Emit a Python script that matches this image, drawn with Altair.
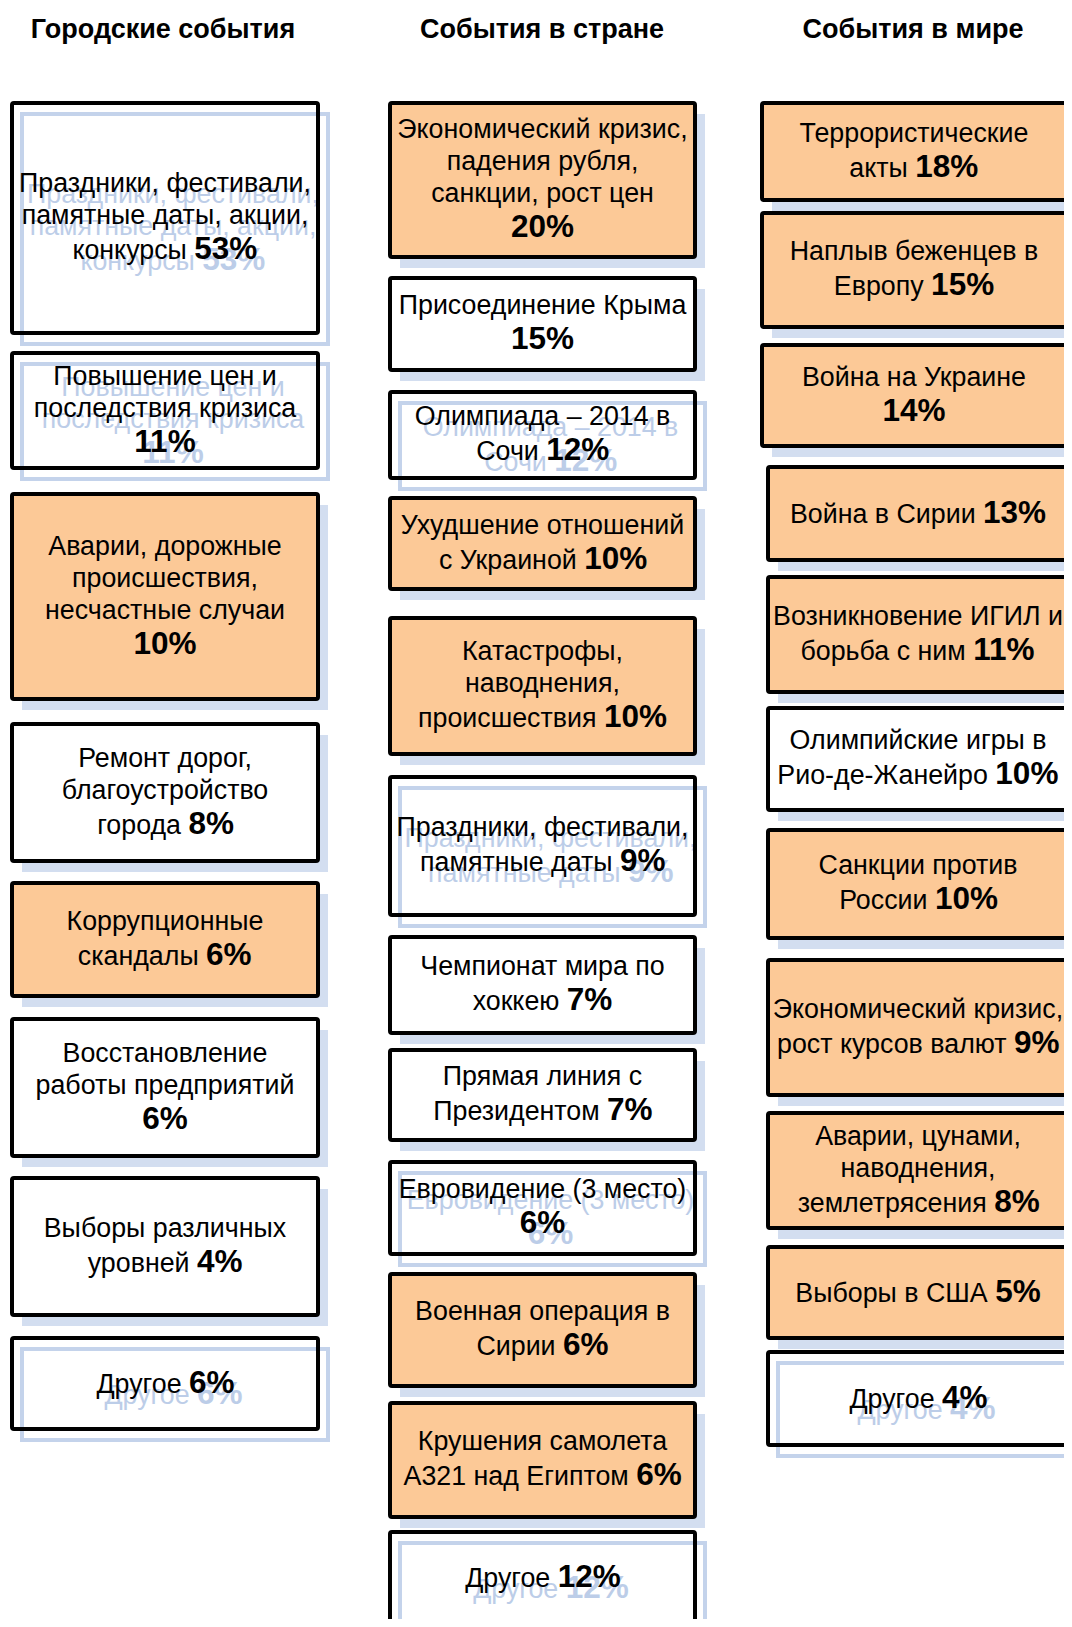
import glob
import struct
import altair as alt
import pandas as pd

# ---------------- data ----------------
column_titles = ["Городские события", "События в стране", "События в мире"]

city_labels = [
    "Праздники, фестивали,\nпамятные даты, акции,\nконкурсы",
    "Повышение цен и\nпоследствия кризиса",
    "Аварии, дорожные\nпроисшествия,\nнесчастные случаи",
    "Ремонт дорог,\nблагоустройство\nгорода",
    "Коррупционные\nскандалы",
    "Восстановление\nработы предприятий",
    "Выборы различных\nуровней",
    "Другое",
]
city_pct = [53, 11, 10, 8, 6, 6, 4, 6]
city_style = ["ghost", "ghost", "orange", "white", "orange", "white", "white", "ghost"]
city_pct_newline = [False, True, True, False, False, True, False, False]

country_labels = [
    "Экономический кризис,\nпадения рубля,\nсанкции, рост цен",
    "Присоединение Крыма",
    "Олимпиада – 2014 в\nСочи",
    "Ухудшение отношений\nс Украиной",
    "Катастрофы,\nнаводнения,\nпроисшествия",
    "Праздники, фестивали,\nпамятные даты",
    "Чемпионат мира по\nхоккею",
    "Прямая линия с\nПрезидентом",
    "Евровидение (3 место)",
    "Военная операция в\nСирии",
    "Крушения самолета\nА321 над Египтом",
    "Другое",
]
country_pct = [20, 15, 12, 10, 10, 9, 7, 7, 6, 6, 6, 12]
country_style = ["orange", "white", "ghost", "orange", "orange", "ghost",
                 "white", "white", "ghost", "orange", "orange", "ghost"]
country_pct_newline = [True, True, False, False, False, False,
                       False, False, True, False, False, False]

world_labels = [
    "Террористические\nакты",
    "Наплыв беженцев в\nЕвропу",
    "Война на Украине",
    "Война в Сирии",
    "Возникновение ИГИЛ и\nборьба с ним",
    "Олимпийские игры в\nРио-де-Жанейро",
    "Санкции против\nРоссии",
    "Экономический кризис,\nрост курсов валют",
    "Аварии, цунами,\nнаводнения,\nземлетрясения",
    "Выборы в США",
    "Другое",
]
world_pct = [18, 15, 14, 13, 11, 10, 10, 9, 8, 5, 4]
world_style = ["orange", "orange", "orange", "orange", "orange", "white",
               "orange", "orange", "orange", "orange", "ghost"]
world_pct_newline = [False, False, True, False, False, False,
                     False, False, False, False, False]

# ---------------- layout (pixels of the picture) ----------------
city_left = [12] * 8
city_right = [318] * 8
city_top = [103, 353, 494, 724, 883, 1019, 1178, 1338]
city_bottom = [333, 468, 699, 861, 996, 1156, 1315, 1429]

country_left = [390] * 12
country_right = [695] * 12
country_top = [103, 278, 392, 498, 618, 777, 937, 1050, 1162, 1274, 1403, 1532]
country_bottom = [257, 370, 478, 589, 754, 915, 1033, 1140, 1254, 1386, 1517, 1623]

world_left = [762, 762, 762] + [768] * 8
world_right = [1066, 1066, 1066] + [1068] * 8
world_top = [103, 213, 345, 467, 577, 708, 830, 960, 1113, 1247, 1352]
world_bottom = [200, 327, 446, 560, 692, 810, 938, 1095, 1228, 1338, 1445]

title_x = [163, 542, 913]
title_y = 38

FONT = "Liberation Sans"
REG = 26.8
BOLD = 31.5
TITLE = 27
LH_REG = 32
LH_BOLD = 36
ORANGE = "#FCC997"
SHADOW_FILL = "#d3def0"
SHADOW_LINE = "#c4d3eb"
GHOST_TEXT = "#bccde8"
SH_DX, SH_DY = 10, 11
GH_DX, GH_DY = 8, 11


# ---------------- text measuring from the installed TTF ----------------
def load_measure(pattern):
    files = glob.glob(pattern, recursive=True)
    if not files:
        return None
    try:
        with open(files[0], "rb") as f:
            data = f.read()
        num = struct.unpack(">H", data[4:6])[0]
        tables = {}
        for i in range(num):
            tag, cs, off, ln = struct.unpack(">4sIII", data[12 + 16 * i:28 + 16 * i])
            tables[tag.decode("latin1")] = off
        head = tables["head"]
        upem = struct.unpack(">H", data[head + 18:head + 20])[0]
        hhea = tables["hhea"]
        nhm = struct.unpack(">H", data[hhea + 34:hhea + 36])[0]
        hmtx = tables["hmtx"]
        adv = [struct.unpack(">H", data[hmtx + 4 * i:hmtx + 4 * i + 2])[0] for i in range(nhm)]
        cmap = tables["cmap"]
        n = struct.unpack(">H", data[cmap + 2:cmap + 4])[0]
        sub = None
        for i in range(n):
            pid, eid, off = struct.unpack(">HHI", data[cmap + 4 + 8 * i:cmap + 12 + 8 * i])
            fmt = struct.unpack(">H", data[cmap + off:cmap + off + 2])[0]
            if pid == 3 and eid == 1 and fmt == 4:
                sub = cmap + off
        segx2 = struct.unpack(">H", data[sub + 6:sub + 8])[0]
        seg = segx2 // 2
        ends = struct.unpack(">%dH" % seg, data[sub + 14:sub + 14 + segx2])
        starts = struct.unpack(">%dH" % seg, data[sub + 16 + segx2:sub + 16 + 2 * segx2])
        deltas = struct.unpack(">%dh" % seg, data[sub + 16 + 2 * segx2:sub + 16 + 3 * segx2])
        rpos = sub + 16 + 3 * segx2
        roffs = struct.unpack(">%dH" % seg, data[rpos:rpos + segx2])

        def gid(c):
            for i in range(seg):
                if ends[i] >= c:
                    if starts[i] > c:
                        return 0
                    if roffs[i] == 0:
                        return (c + deltas[i]) & 0xFFFF
                    addr = rpos + 2 * i + roffs[i] + 2 * (c - starts[i])
                    g = struct.unpack(">H", data[addr:addr + 2])[0]
                    return (g + deltas[i]) & 0xFFFF if g else 0
            return 0

        def measure(s, size):
            tot = 0
            for ch in s:
                g = gid(ord(ch))
                tot += adv[min(g, nhm - 1)]
            return tot * size / upem
        return measure
    except Exception:
        return None


def approx(bold):
    def measure(s, size):
        tot = 0.0
        for ch in s:
            if ch in " ,.":
                w = 0.278
            elif ch.isdigit():
                w = 0.556
            elif ch == "%":
                w = 0.889
            elif ch.isupper():
                w = 0.68
            else:
                w = 0.54
            tot += w * (1.06 if bold else 1.0)
        return tot * size
    return measure


m_reg = load_measure("/usr/share/fonts/**/LiberationSans-Regular.ttf") or approx(False)
m_bold = load_measure("/usr/share/fonts/**/LiberationSans-Bold.ttf") or approx(True)

# ---------------- build tables ----------------
box_rows, text_rows = [], []
columns = [
    (city_labels, city_pct, city_style, city_pct_newline, city_left, city_right, city_top, city_bottom),
    (country_labels, country_pct, country_style, country_pct_newline, country_left, country_right, country_top, country_bottom),
    (world_labels, world_pct, world_style, world_pct_newline, world_left, world_right, world_top, world_bottom),
]
for labels, pcts, styles, newl, L, R, T, B in columns:
    for lab, p, st, nl, x1, x2, y1, y2 in zip(labels, pcts, styles, newl, L, R, T, B):
        fill = {"orange": ORANGE, "white": "white", "ghost": "transparent"}[st]
        box_rows.append(dict(x1=x1, x2=x2, y1=y1, y2=y2, fill=fill, style=st,
                             sx1=x1 + SH_DX, sx2=x2 + SH_DX, sy1=y1 + SH_DY, sy2=y2 + SH_DY))
        parts = lab.split("\n")
        pct = f"{p}%"
        if nl:
            lines = [(t, "") for t in parts] + [("", pct)]
        else:
            lines = [(t, "") for t in parts[:-1]] + [(parts[-1], pct)]
        heights = [LH_BOLD if b else LH_REG for _, b in lines]
        cx = (x1 + x2) / 2
        top = (y1 + y2) / 2 - sum(heights) / 2
        for (reg, bold), h in zip(lines, heights):
            base = top + 0.75 * h
            top += h
            if reg and bold:
                wsep = m_reg(" ", REG)
                wr = m_reg(reg, REG)
                wb = m_bold(bold, BOLD)
                x0 = cx - (wr + wsep + wb) / 2
                split = x0 + wr + wsep
                text_rows.append(dict(x=split - wsep, y=base, text=reg, kind="reg_right", ghost=st == "ghost"))
                text_rows.append(dict(x=split, y=base, text=bold, kind="bold_left", ghost=st == "ghost"))
            elif reg:
                text_rows.append(dict(x=cx, y=base, text=reg, kind="reg_center", ghost=st == "ghost"))
            else:
                text_rows.append(dict(x=cx, y=base, text=bold, kind="bold_center", ghost=st == "ghost"))

boxes = pd.DataFrame(box_rows)
texts = pd.DataFrame(text_rows)
texts["gx"] = texts["x"] + GH_DX
texts["gy"] = texts["y"] + GH_DY
titles = pd.DataFrame(dict(x=title_x, y=[title_y] * 3, text=column_titles))

W, H = 1056, 1611
xs = alt.Scale(domain=[8, 8 + W], nice=False, zero=False)
ys = alt.Scale(domain=[8, 8 + H], nice=False, zero=False, reverse=True)


def X(f):
    return alt.X(f"{f}:Q", scale=xs, axis=None)


def Y(f):
    return alt.Y(f"{f}:Q", scale=ys, axis=None)


layers = []
# filled shadows
layers.append(alt.Chart(boxes[boxes["style"] != "ghost"]).mark_rect(fill=SHADOW_FILL).encode(
    x=X("sx1"), x2="sx2", y=Y("sy1"), y2="sy2"))
# outline shadows of see-through boxes
layers.append(alt.Chart(boxes[boxes["style"] == "ghost"]).mark_rect(
    fillOpacity=0, stroke=SHADOW_LINE, strokeWidth=4).encode(
    x=X("sx1"), x2="sx2", y=Y("sy1"), y2="sy2"))

kinds = {
    "reg_right": dict(align="right", fontSize=REG, fontWeight="normal"),
    "reg_center": dict(align="center", fontSize=REG, fontWeight="normal"),
    "bold_left": dict(align="left", fontSize=BOLD, fontWeight="bold"),
    "bold_center": dict(align="center", fontSize=BOLD, fontWeight="bold"),
}
ghost_texts = texts[texts["ghost"]]
for k, props in kinds.items():
    d = ghost_texts[ghost_texts["kind"] == k]
    if len(d):
        layers.append(alt.Chart(d).mark_text(baseline="alphabetic", font=FONT, color=GHOST_TEXT, **props).encode(
            x=X("gx"), y=Y("gy"), text="text:N"))

# boxes
layers.append(alt.Chart(boxes).mark_rect(stroke="black", strokeWidth=4, cornerRadius=2).encode(
    x=X("x1"), x2="x2", y=Y("y1"), y2="y2", fill=alt.Fill("fill:N", scale=None)))

for k, props in kinds.items():
    d = texts[texts["kind"] == k]
    layers.append(alt.Chart(d).mark_text(baseline="alphabetic", font=FONT, color="black", **props).encode(
        x=X("x"), y=Y("y"), text="text:N"))

layers.append(alt.Chart(titles).mark_text(baseline="alphabetic", font=FONT, fontSize=TITLE,
                                          fontWeight="bold", color="black", align="center").encode(
    x=X("x"), y=Y("y"), text="text:N"))

chart = alt.layer(*layers).properties(
    width=W, height=H, autosize=alt.AutoSizeParams(type="none"), padding=0,
    background="white",
).configure_view(strokeWidth=0)

chart.save("out.html", embed_options={"renderer": "svg", "actions": False})
